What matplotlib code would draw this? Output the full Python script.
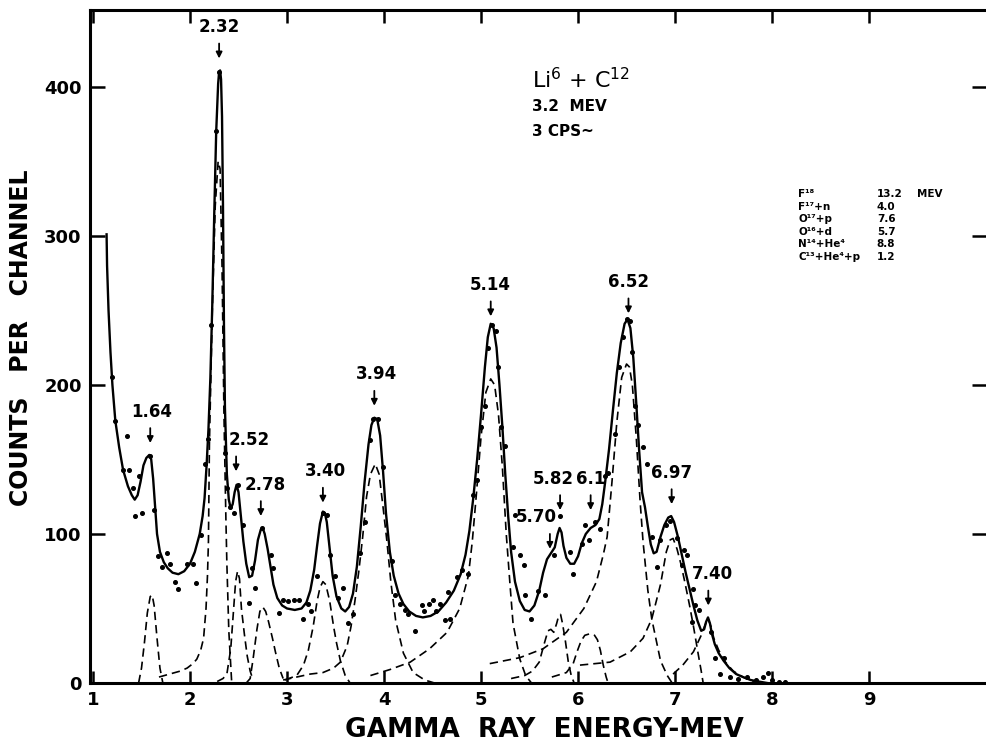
import matplotlib
matplotlib.use("Agg")
import matplotlib.pyplot as plt

plt.rcParams['font.family'] = 'DejaVu Sans'

# ---- fitted (solid) curve ----
fit_energy = [1.14, 1.145, 1.16, 1.18, 1.20, 1.23, 1.27, 1.31, 1.36, 1.40, 1.43, 1.46, 1.49, 1.52,
              1.55, 1.58, 1.60, 1.62, 1.64, 1.66, 1.69, 1.73, 1.77, 1.82, 1.88, 1.94, 2.00, 2.05,
              2.10, 2.13, 2.15, 2.17, 2.19, 2.21, 2.23, 2.25, 2.27, 2.29, 2.30, 2.31, 2.32, 2.33,
              2.34, 2.35, 2.36, 2.38, 2.40, 2.42, 2.44, 2.46, 2.48, 2.50, 2.52, 2.55, 2.58, 2.61,
              2.64, 2.67, 2.70, 2.73, 2.75, 2.77, 2.80, 2.83, 2.86, 2.90, 2.95, 3.00, 3.08, 3.15,
              3.20, 3.24, 3.28, 3.31, 3.34, 3.37, 3.39, 3.41, 3.44, 3.47, 3.51, 3.56, 3.60, 3.64,
              3.68, 3.72, 3.76, 3.80, 3.84, 3.87, 3.90, 3.93, 3.96, 3.99, 4.02, 4.06, 4.10, 4.15,
              4.20, 4.26, 4.33, 4.40, 4.48, 4.56, 4.64, 4.72, 4.79, 4.84, 4.88, 4.92, 4.96, 5.00,
              5.04, 5.07, 5.10, 5.13, 5.16, 5.19, 5.22, 5.25, 5.28, 5.31, 5.35, 5.40, 5.45, 5.50,
              5.55, 5.60, 5.64, 5.68, 5.72, 5.76, 5.79, 5.81, 5.83, 5.85, 5.88, 5.92, 5.96, 6.00,
              6.04, 6.08, 6.13, 6.18, 6.22, 6.25, 6.28, 6.32, 6.36, 6.40, 6.44, 6.48, 6.51, 6.54,
              6.57, 6.60, 6.63, 6.66, 6.69, 6.72, 6.75, 6.78, 6.81, 6.85, 6.89, 6.93, 6.96, 6.99,
              7.03, 7.07, 7.11, 7.15, 7.19, 7.23, 7.27, 7.30, 7.32, 7.34, 7.36, 7.38, 7.41, 7.45,
              7.50, 7.56, 7.63, 7.70, 7.78, 7.86, 7.95]
fit_counts = [301, 280, 250, 222, 200, 176, 158, 143, 132, 126, 123, 126, 135, 146,
              151, 153, 150, 137, 118, 100, 88, 81, 77, 74, 73, 75, 80, 88,
              100, 112, 124, 145, 170, 205, 255, 315, 370, 402, 410, 411, 405, 380,
              320, 240, 185, 140, 123, 117, 120, 128, 133, 128, 115, 95, 80, 71,
              72, 82, 96, 103, 104, 100, 90, 78, 66, 57, 52, 50, 49, 50,
              54, 62, 76, 92, 107, 115, 114, 108, 90, 72, 58, 50, 48, 51,
              60, 78, 105, 135, 160, 173, 178, 177, 166, 142, 114, 88, 72, 60,
              53, 48, 45, 44, 45, 48, 54, 62, 73, 86, 102, 124, 150, 180,
              212, 232, 241, 238, 225, 200, 172, 140, 112, 88, 68, 55, 49, 48,
              52, 62, 74, 83, 87, 91, 100, 104, 101, 92, 84, 80, 80, 85,
              94, 100, 104, 106, 110, 120, 135, 157, 183, 208, 228, 241, 244, 238,
              218, 188, 156, 128, 118, 105, 93, 87, 88, 98, 106, 111, 112, 108,
              98, 86, 74, 63, 52, 42, 35, 36, 41, 44, 40, 33, 26, 20,
              15, 10, 6, 4, 2, 1, 0]

# ---- measured points ----
data_energy = [1.20, 1.23, 1.35, 1.31, 1.37, 1.41, 1.47, 1.43, 1.50, 1.59, 1.63, 1.67, 1.76, 1.71,
               1.79, 1.85, 1.88, 1.97, 2.03, 2.06, 2.11, 2.15, 2.19, 2.22, 2.27, 2.30, 2.36, 2.38,
               2.41, 2.45, 2.49, 2.55, 2.64, 2.61, 2.67, 2.74, 2.83, 2.86, 2.92, 2.96, 3.01, 3.07,
               3.12, 3.16, 3.22, 3.25, 3.31, 3.37, 3.41, 3.44, 3.49, 3.53, 3.58, 3.63, 3.68, 3.75,
               3.80, 3.86, 3.89, 3.94, 3.99, 4.08, 4.11, 4.16, 4.22, 4.25, 4.32, 4.41, 4.39, 4.46,
               4.51, 4.58, 4.54, 4.63, 4.68, 4.66, 4.75, 4.80, 4.87, 4.92, 4.96, 5.00, 5.04, 5.07,
               5.11, 5.15, 5.18, 5.21, 5.25, 5.33, 5.40, 5.44, 5.45, 5.52, 5.59, 5.66, 5.35, 5.75,
               5.81, 5.92, 5.95, 6.04, 6.07, 6.11, 6.18, 6.23, 6.28, 6.31, 6.38, 6.42, 6.46, 6.50,
               6.54, 6.56, 6.59, 6.62, 6.67, 6.71, 6.76, 6.81, 6.85, 6.91, 6.95, 7.02, 7.09, 7.12,
               7.07, 7.19, 7.21, 7.25, 7.18, 7.37, 7.41, 7.50, 7.46, 7.57, 7.65, 7.74, 7.83, 7.91,
               7.96, 8.00, 8.07, 8.13]
data_counts = [205, 176, 166, 143, 143, 131, 139, 112, 114, 152, 116, 85, 87, 78,
               80, 68, 63, 80, 80, 67, 99, 147, 164, 240, 370, 410, 154, 131,
               118, 114, 133, 106, 77, 54, 64, 104, 86, 77, 47, 56, 55, 56,
               56, 43, 53, 48, 72, 114, 113, 86, 72, 57, 64, 40, 46, 87,
               108, 163, 177, 177, 145, 82, 59, 53, 49, 46, 35, 48, 52, 53,
               56, 53, 48, 42, 43, 61, 71, 76, 73, 126, 136, 172, 186, 225,
               240, 236, 212, 172, 159, 91, 86, 79, 59, 43, 62, 59, 113, 86,
               112, 88, 73, 93, 106, 96, 108, 103, 139, 141, 167, 212, 232, 244,
               243, 222, 186, 173, 158, 147, 98, 78, 96, 106, 109, 97, 89, 86,
               79, 63, 52, 49, 41, 34, 17, 17, 6, 4, 3, 4, 2, 4,
               7, 2, 1, 1]

# ---- resolved components (dashed) ----
comp_164_e = [1.47, 1.50, 1.53, 1.56, 1.59, 1.61, 1.63, 1.66, 1.69, 1.72]
comp_164_c = [0, 10, 27, 47, 58, 59, 52, 30, 10, 0]

comp_232_e = [1.68, 1.79, 1.90, 1.97, 2.03, 2.07, 2.11, 2.14, 2.165, 2.18, 2.19, 2.20, 2.23,
              2.26, 2.29, 2.31, 2.33, 2.35, 2.37, 2.38, 2.40, 2.43]
comp_232_c = [4, 6, 8, 10, 13, 16, 22, 30, 50, 72, 95, 160, 250,
              320, 350, 345, 280, 180, 110, 80, 35, 0]

comp_252_e = [2.28, 2.34, 2.38, 2.42, 2.45, 2.47, 2.49, 2.51, 2.53, 2.56, 2.59, 2.62, 2.65]
comp_252_c = [1, 3, 6, 23, 50, 68, 75, 70, 50, 33, 18, 8, 2]

comp_278_e = [2.58, 2.62, 2.65, 2.69, 2.72, 2.75, 2.78, 2.81, 2.85, 2.88, 2.92, 2.96]
comp_278_c = [0, 3, 16, 36, 48, 51, 48, 41, 30, 21, 10, 3]

comp_340_e = [2.98, 3.10, 3.17, 3.22, 3.27, 3.31, 3.34, 3.37, 3.40, 3.44, 3.48, 3.51, 3.55, 3.60, 3.65]
comp_340_c = [2, 5, 12, 22, 38, 55, 64, 68, 66, 55, 38, 27, 15, 5, 0]

comp_394_e = [2.96, 3.10, 3.24, 3.37, 3.48, 3.55, 3.62, 3.66, 3.70, 3.74, 3.78, 3.82, 3.86, 3.91,
              3.95, 3.99, 4.03, 4.07, 4.12, 4.20, 4.30, 4.42, 4.52]
comp_394_c = [2, 4, 6, 7, 10, 14, 25, 38, 55, 75, 98, 125, 140, 147,
              140, 118, 95, 68, 42, 20, 7, 2, 0]

comp_514_e = [3.86, 4.06, 4.27, 4.47, 4.65, 4.78, 4.87, 4.91, 4.95, 5.00, 5.05, 5.10, 5.14,
              5.18, 5.22, 5.26, 5.30, 5.33, 5.40, 5.46, 5.52]
comp_514_c = [5, 9, 14, 23, 34, 50, 72, 95, 125, 165, 195, 204, 200,
              180, 145, 100, 65, 40, 16, 5, 0]

comp_582_e = [5.31, 5.45, 5.53, 5.60, 5.65, 5.69, 5.72, 5.75, 5.78, 5.80, 5.82, 5.84, 5.87,
              5.90, 5.93, 5.96]
comp_582_c = [3, 5, 8, 14, 26, 35, 36, 34, 40, 45, 46, 40, 28,
              14, 5, 0]

comp_61_e = [5.73, 5.88, 5.95, 5.99, 6.03, 6.07, 6.12, 6.17, 6.20, 6.23, 6.26, 6.29, 6.31]
comp_61_c = [4, 7, 13, 21, 28, 32, 33, 32, 29, 22, 12, 4, 0]

comp_652_e = [5.09, 5.40, 5.64, 5.88, 6.06, 6.19, 6.26, 6.30, 6.35, 6.40, 6.45, 6.50, 6.53,
              6.56, 6.60, 6.64, 6.67, 6.72, 6.76, 6.85, 6.92, 6.97]
comp_652_c = [13, 17, 23, 34, 50, 68, 86, 98, 135, 175, 205, 214, 212,
              200, 165, 122, 95, 62, 43, 15, 5, 0]

comp_697_e = [6.02, 6.33, 6.54, 6.67, 6.76, 6.85, 6.91, 6.95, 6.98, 7.02, 7.06, 7.10, 7.15,
              7.19, 7.24, 7.27, 7.29]
comp_697_c = [12, 14, 21, 30, 43, 66, 88, 96, 97, 90, 80, 68, 52,
              38, 19, 8, 0]

comp_740_e = [6.98, 7.08, 7.19, 7.27, 7.31, 7.34, 7.37, 7.40, 7.45, 7.52, 7.60, 7.70, 7.80, 7.90]
comp_740_c = [6, 12, 21, 32, 39, 43, 38, 30, 22, 14, 8, 4, 1, 0]

components = [
    (comp_164_e, comp_164_c), (comp_232_e, comp_232_c), (comp_252_e, comp_252_c),
    (comp_278_e, comp_278_c), (comp_340_e, comp_340_c), (comp_394_e, comp_394_c),
    (comp_514_e, comp_514_c), (comp_582_e, comp_582_c), (comp_61_e, comp_61_c),
    (comp_652_e, comp_652_c), (comp_697_e, comp_697_c), (comp_740_e, comp_740_c),
]

# ---- peak markers: label, arrow x, arrow tip ----
peak_labels = ['1.64', '2.32', '2.52', '2.78', '3.40', '3.94', '5.14', '5.70',
               '5.82', '6.1', '6.97', '6.52', '7.40']
peak_arrow_x = [1.59, 2.30, 2.475, 2.73, 3.37, 3.90, 5.10, 5.71,
                5.815, 6.13, 6.965, 6.52, 7.343]
peak_arrow_tip = [161, 419, 142, 112, 121, 186, 246, 90,
                  116, 116, 120, 248, 52]
# horizontal shift of the label relative to its arrow (MeV)
label_dx = [0.01, 0.0, 0.14, 0.05, 0.03, 0.02, 0.0, -0.14,
            -0.07, 0.0, 0.0, 0.0, 0.04]

yticks = [0, 100, 200, 300, 400]
xticks = [1, 2, 3, 4, 5, 6, 7, 8, 9]

reaction_names = ['F¹⁸', 'F¹⁷+n', 'O¹⁷+p', 'O¹⁶+d', 'N¹⁴+He⁴', 'C¹³+He⁴+p']
reaction_q = ['13.2', '4.0', '7.6', '5.7', '8.8', '1.2']

fig = plt.figure(figsize=(9.87, 7.5), dpi=100)
ax = fig.add_axes([90 / 987, 67 / 750, 897 / 987, 673 / 750])

for e, c in components:
    ax.plot(e, c, color='black', lw=1.2, dashes=(5, 3), zorder=2)

ax.plot(fit_energy, fit_counts, color='black', lw=1.7, zorder=3)
ax.plot(data_energy, data_counts, 'o', color='black', markersize=2.6, zorder=4)

arrow_len = 10
for lab, x, tip, dx in zip(peak_labels, peak_arrow_x, peak_arrow_tip, label_dx):
    ax.annotate('', xy=(x, tip), xytext=(x, tip + arrow_len),
                arrowprops=dict(arrowstyle='-|>', color='black', lw=1.3,
                                mutation_scale=9, shrinkA=0, shrinkB=0))
    ax.text(x + dx, tip + arrow_len + 5, lab, ha='center', va='bottom',
            fontsize=12, fontweight='bold')

# reaction label
ax.text(5.53, 399, 'Li$^{6}$ + C$^{12}$', fontsize=16, ha='left', va='baseline')
ax.text(5.53, 384, '3.2  MEV', fontsize=11, fontweight='bold', ha='left', va='baseline')
ax.text(5.53, 367, '3 CPS~', fontsize=11, fontweight='bold', ha='left', va='baseline')

row_y = [326, 317.6, 309.2, 300.8, 292.4, 284]
for name, q, ry in zip(reaction_names, reaction_q, row_y):
    ax.text(8.27, ry, name, fontsize=7.5, fontweight='bold', ha='left', va='baseline')
    ax.text(9.08, ry, q, fontsize=7.5, fontweight='bold', ha='left', va='baseline')
ax.text(9.49, row_y[0], 'MEV', fontsize=7.5, fontweight='bold', ha='left', va='baseline')

ax.set_xlim(0.969, 10.216)
ax.set_ylim(0, 451.5)
ax.set_xticks(xticks)
ax.set_yticks(yticks)
ax.set_xticklabels([str(t) for t in xticks], fontsize=13, fontweight='bold')
ax.set_yticklabels([str(t) for t in yticks], fontsize=13, fontweight='bold')
ax.tick_params(axis='both', direction='in', width=1.8, top=True, right=True)
ax.tick_params(axis='x', which='major', length=9, pad=6)
ax.tick_params(axis='y', which='major', length=11, pad=6)

for side in ['left', 'bottom', 'top']:
    ax.spines[side].set_linewidth(2.2)
ax.spines['right'].set_visible(False)

fig.text(0.552, 0.027, 'GAMMA  RAY  ENERGY-MEV', fontsize=19, fontweight='bold',
         ha='center', va='center')
fig.text(0.021, 0.55, 'COUNTS   PER   CHANNEL', fontsize=17, fontweight='bold',
         ha='center', va='center', rotation=90)

fig.savefig('out.png', dpi=100)
